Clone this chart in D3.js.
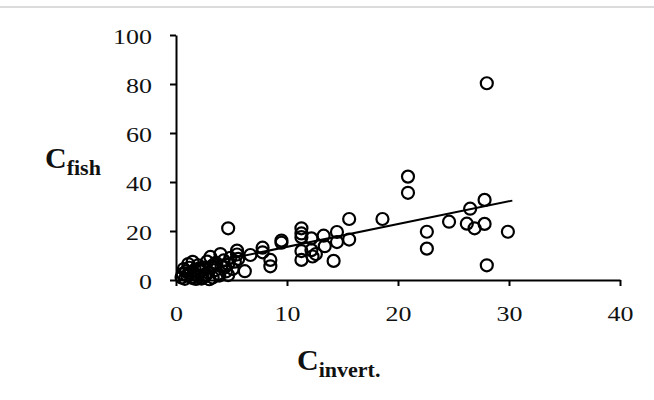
<!DOCTYPE html>
<html>
<head>
<meta charset="utf-8">
<script src="https://cdn.jsdelivr.net/npm/d3@7"></script>
<style>
html,body{margin:0;padding:0;background:#fff;}
svg{display:block;}
</style>
</head>
<body>
<svg id="chart" width="654" height="400"></svg>
<script>
// ---- data ----
const invertX = [
  28.0, 20.9, 20.9, 27.8, 26.5, 24.6, 26.2, 26.9, 27.8, 29.9,
  22.6, 22.6, 28.0, 18.6, 15.6, 15.6, 14.5, 14.5, 14.2, 13.3,
  13.4, 12.2, 11.3, 11.3, 11.3, 11.3, 11.3, 12.2, 12.3, 12.6,
  9.5, 9.5, 8.5, 8.5, 7.8, 7.8, 6.7, 6.2, 4.7, 5.5,
  5.5, 4.7,
  0.5, 0.6, 0.8, 0.9, 1.0, 1.2, 1.3, 1.5, 1.5, 1.7,
  1.9, 2.0, 2.2, 2.3, 2.5, 2.6, 2.8, 2.9, 3.1, 3.2,
  3.3, 3.5, 3.6, 3.8, 4.0, 4.1, 4.3, 4.5, 4.7, 4.9,
  5.1, 5.3, 5.6, 3.0, 1.1, 0.7, 1.4, 2.1, 2.7, 3.4,
  3.9, 4.4, 1.8, 2.4
];
const fishY = [
  80.3, 42.2, 35.6, 32.7, 29.1, 23.8, 23.0, 21.1, 22.9, 19.7,
  19.7, 12.8, 6.0, 24.9, 24.9, 16.5, 19.6, 15.5, 7.8, 18.1,
  13.8, 17.0, 21.1, 19.0, 17.5, 11.8, 8.2, 12.2, 9.6, 10.6,
  16.1, 15.2, 8.2, 5.6, 13.2, 11.3, 10.2, 3.6, 21.1, 12.0,
  10.4, 2.0,
  1.0, 2.5, 0.5, 3.5, 1.8, 5.0, 2.8, 7.4, 0.8, 4.2,
  2.0, 6.0, 3.5, 0.6, 5.0, 1.5, 7.5, 3.0, 9.4, 5.5,
  1.0, 4.0, 7.0, 2.5, 10.6, 5.5, 8.0, 3.5, 6.5, 9.0,
  4.5, 7.5, 8.6, 0.3, 6.5, 4.5, 1.2, 4.8, 2.2, 6.2,
  1.8, 5.2, 0.4, 1.0
];
const trendX = [0.4, 30.3];
const trendY = [4.6, 32.4];
const xTicks = [0, 10, 20, 30, 40];
const yTicks = [0, 20, 40, 60, 80, 100];

// ---- chart ----
const svg = d3.select("#chart");
const x = d3.scaleLinear().domain([0, 40]).range([176, 620]);
const y = d3.scaleLinear().domain([0, 100]).range([280, 35]);
const serif = "'Liberation Serif','Times New Roman',serif";

// faint top rule
svg.append("line")
  .attr("x1", 0).attr("x2", 654).attr("y1", 7).attr("y2", 7)
  .attr("stroke", "#cfcfcf").attr("stroke-width", 1.5);

// axes
const gx = svg.append("g").attr("transform", "translate(0,280)")
  .call(d3.axisBottom(x).tickValues(xTicks).tickSize(6).tickSizeOuter(0).tickPadding(19));
const gy = svg.append("g").attr("transform", "translate(176,0)")
  .call(d3.axisLeft(y).tickValues(yTicks).tickSize(6).tickSizeOuter(0));

[gx, gy].forEach(g => {
  g.select(".domain").attr("stroke", "#000").attr("stroke-width", 2);
  g.selectAll(".tick line").attr("stroke", "#000").attr("stroke-width", 2);
  g.selectAll("text").attr("font-family", serif).attr("font-size", 22)
    .attr("fill", "#111");
});
gx.selectAll(".tick text").attr("transform", "scale(1.18,1)").attr("x", 0);
gy.selectAll(".tick text").attr("transform", "scale(1.18,1)")
  .attr("x", -24 / 1.18).attr("dy", "0.38em");

// points
const pts = invertX.map((v, i) => [v, fishY[i]]);
svg.append("g").selectAll("circle").data(pts).join("circle")
  .attr("cx", d => x(d[0])).attr("cy", d => y(d[1])).attr("r", 6)
  .attr("fill", "none").attr("stroke", "#000").attr("stroke-width", 2.2);

// trend line
svg.append("line")
  .attr("x1", x(trendX[0])).attr("y1", y(trendY[0]))
  .attr("x2", x(trendX[1])).attr("y2", y(trendY[1]))
  .attr("stroke", "#000").attr("stroke-width", 2);

// axis titles
const ty = svg.append("text").attr("font-family", serif).attr("font-weight", "bold")
  .attr("fill", "#111").attr("x", 45).attr("y", 168);
ty.append("tspan").attr("font-size", 30).text("C");
ty.append("tspan").attr("font-size", 22).attr("dy", 7).text("fish");

const tx = svg.append("text").attr("font-family", serif).attr("font-weight", "bold")
  .attr("fill", "#111").attr("x", 297).attr("y", 370);
tx.append("tspan").attr("font-size", 30).text("C");
tx.append("tspan").attr("font-size", 22).attr("dy", 7).text("invert.");
</script>
</body>
</html>
